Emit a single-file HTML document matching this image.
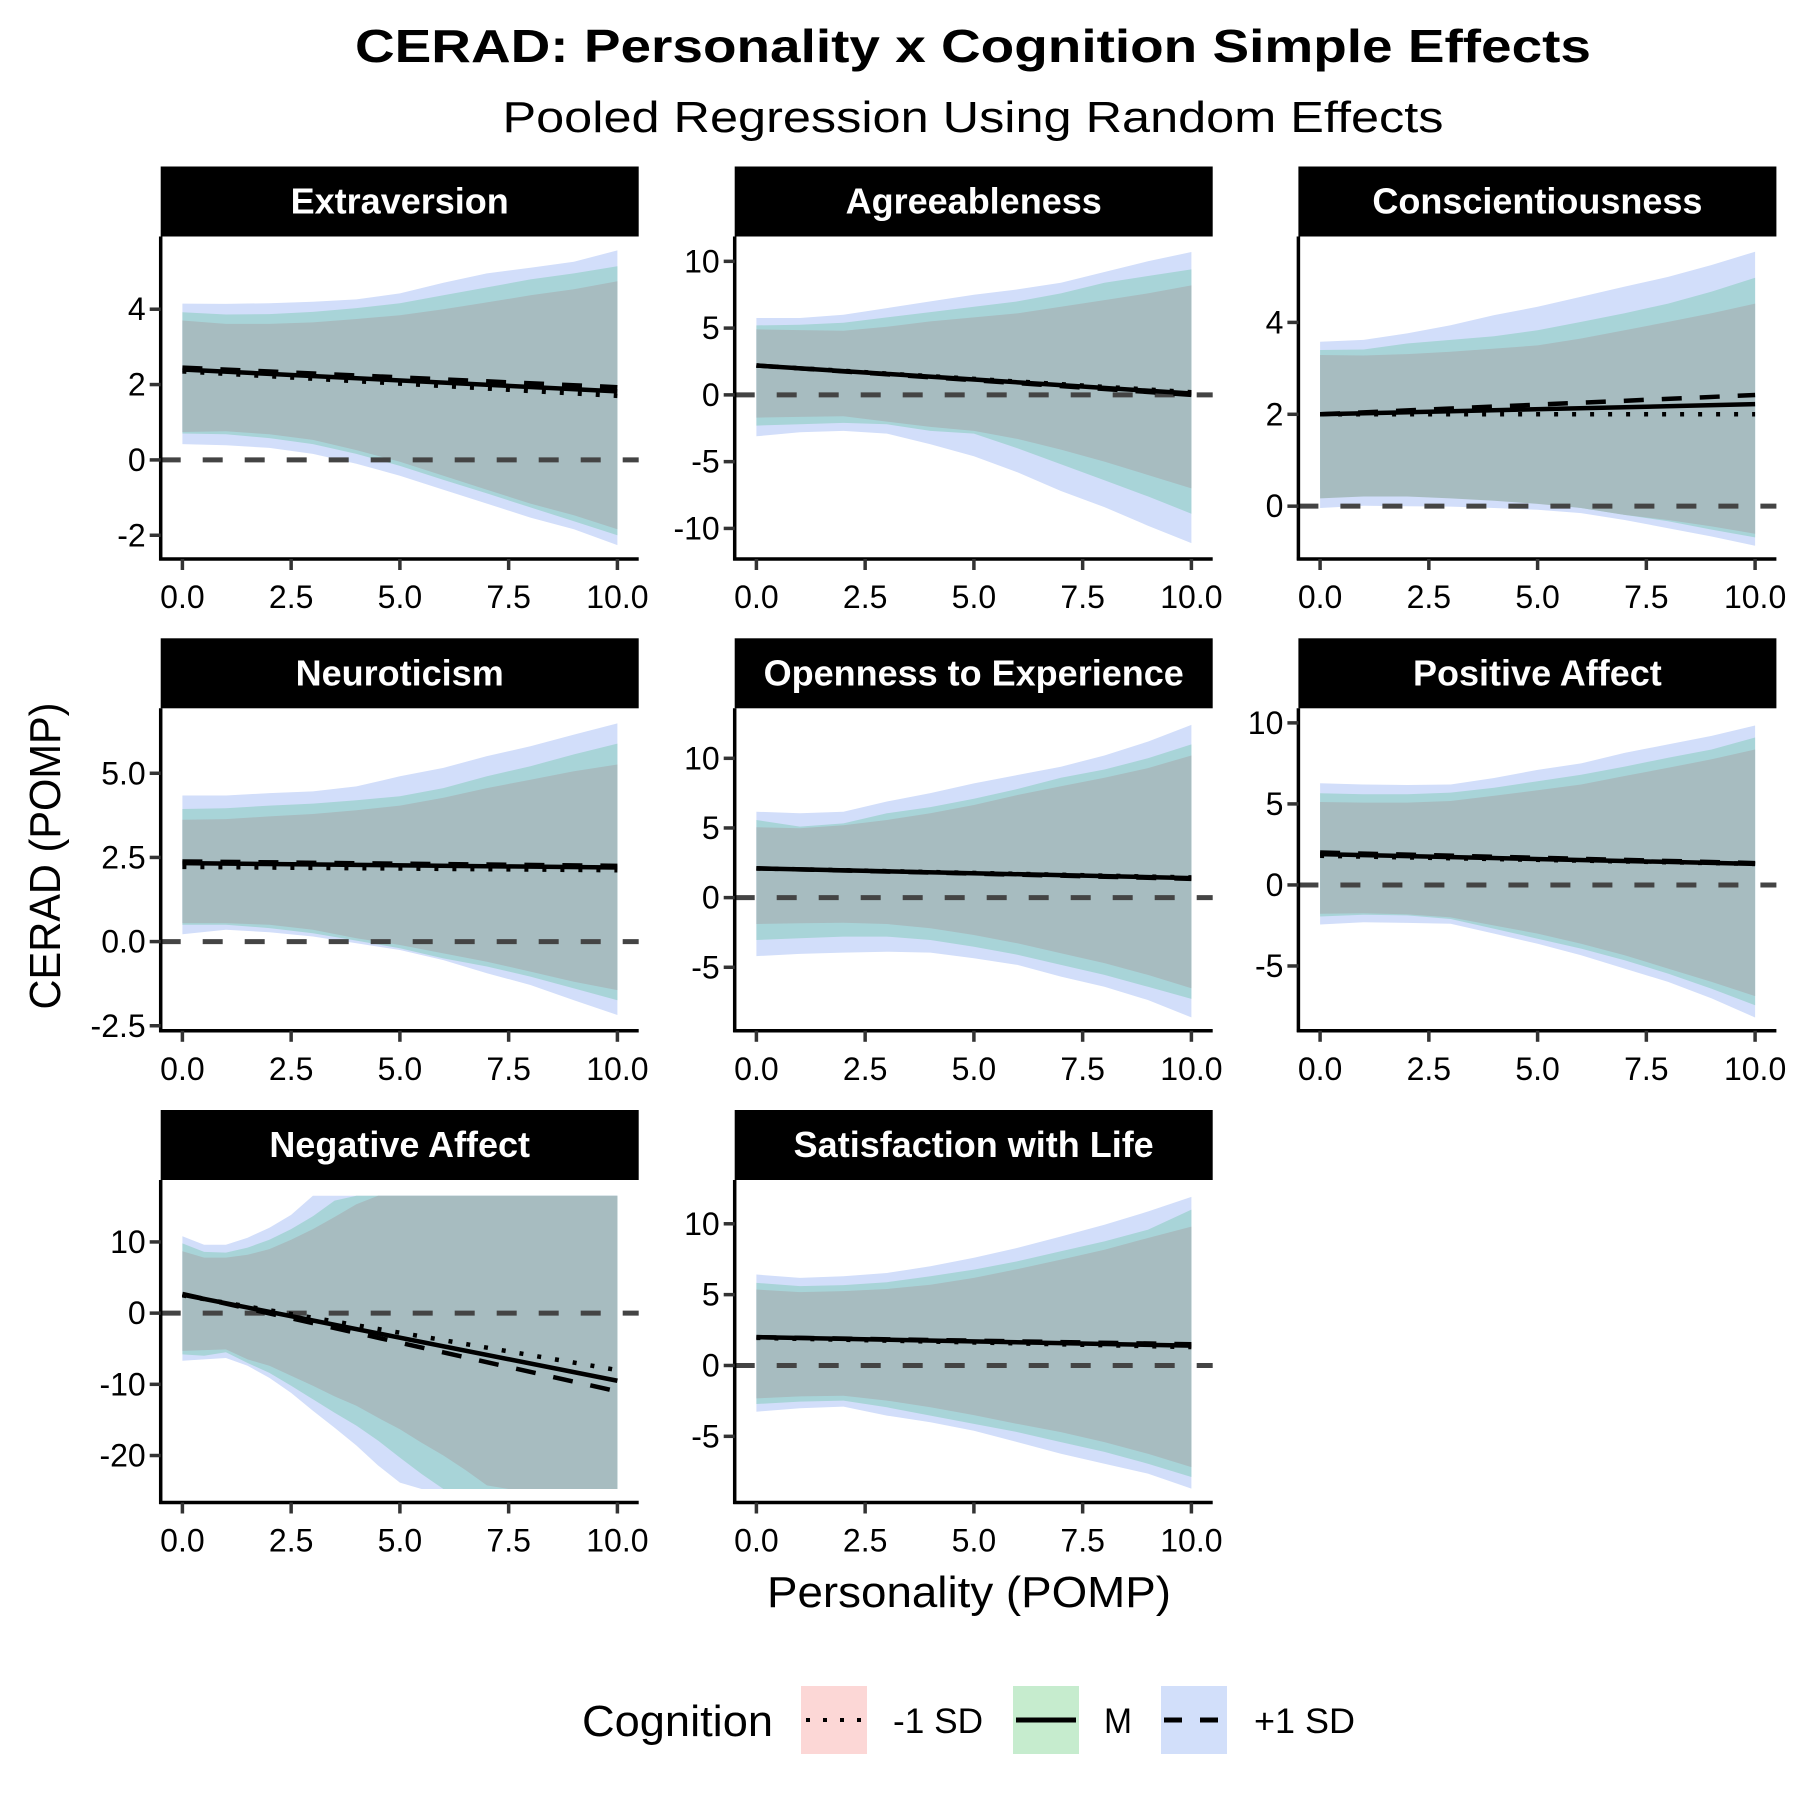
<!DOCTYPE html>
<html><head><meta charset="utf-8"><title>CERAD simple effects</title>
<style>html,body{margin:0;padding:0;background:#fff}svg{display:block}text{font-family:"Liberation Sans",Arial,sans-serif}</style>
</head><body>
<svg id="chart" xmlns="http://www.w3.org/2000/svg" width="1800" height="1800" viewBox="0 0 1800 1800">
<rect width="1800" height="1800" fill="#fff"/>
<text x="973" y="62" text-anchor="middle" font-size="46" font-weight="bold" textLength="1236" lengthAdjust="spacingAndGlyphs">CERAD: Personality x Cognition Simple Effects</text>
<text x="973" y="132" text-anchor="middle" font-size="44" textLength="941" lengthAdjust="spacingAndGlyphs">Pooled Regression Using Random Effects</text>
<text x="969" y="1607" text-anchor="middle" font-size="44" textLength="404" lengthAdjust="spacingAndGlyphs">Personality (POMP)</text>
<text x="60" y="856" text-anchor="middle" font-size="44" transform="rotate(-90 60 856)" textLength="307" lengthAdjust="spacingAndGlyphs">CERAD (POMP)</text>
<g id="panels"></g>
<g id="legend">
<text x="582" y="1736" font-size="44" textLength="191" lengthAdjust="spacingAndGlyphs">Cognition</text>
<g>
<rect x="801" y="1686" width="66" height="68" fill="#fcd7d6"/>
<line x1="806" y1="1720" x2="862" y2="1720" stroke="#000" stroke-width="4" stroke-dasharray="4 13"/>
<text x="893" y="1733" font-size="35" textLength="90" lengthAdjust="spacingAndGlyphs">-1 SD</text>
</g>
<g>
<rect x="1013" y="1686" width="66" height="68" fill="#c6ecce"/>
<line x1="1016" y1="1720" x2="1076" y2="1720" stroke="#000" stroke-width="5"/>
<text x="1104" y="1733" font-size="35" textLength="28" lengthAdjust="spacingAndGlyphs">M</text>
</g>
<g>
<rect x="1161" y="1686" width="66" height="68" fill="#d2dffa"/>
<line x1="1164" y1="1720" x2="1224" y2="1720" stroke="#000" stroke-width="5" stroke-dasharray="18 18"/>
<text x="1254" y="1733" font-size="35" textLength="101" lengthAdjust="spacingAndGlyphs">+1 SD</text>
</g>
</g>
</svg>
<script>
// ---------- data ----------
const xTicks = [0, 2.5, 5, 7.5, 10];
const xTickLabels = ["0.0", "2.5", "5.0", "7.5", "10.0"];
const xsStd = [0,1,2,3,4,5,6,7,8,9,10];
const xsNA = [0,0.5,1,1.5,2,2.5,3,3.5,4,4.5,5,5.5,6,6.5,7,7.5,8,8.5,9,9.5,10];

// Extraversion
const extHiP = [3.7,3.61,3.61,3.65,3.74,3.84,4.0,4.18,4.37,4.53,4.74];
const extLoP = [0.74,0.76,0.68,0.53,0.26,-0.05,-0.42,-0.79,-1.16,-1.47,-1.84];
const extHiG = [3.92,3.86,3.87,3.93,4.03,4.16,4.37,4.58,4.79,4.95,5.14];
const extLoG = [0.7,0.68,0.58,0.42,0.16,-0.16,-0.53,-0.89,-1.26,-1.63,-2.0];
const extHiB = [4.15,4.14,4.16,4.2,4.26,4.42,4.7,4.95,5.1,5.26,5.56];
const extLoB = [0.42,0.39,0.32,0.16,-0.1,-0.42,-0.79,-1.16,-1.53,-1.84,-2.26];
const extLow = [2.35,1.7], extMid = [2.4,1.82], extHigh = [2.45,1.93];
const extTicks = [-2,0,2,4], extTickLabels = ["-2","0","2","4"], extDomain = [-2.63,5.93];

// Agreeableness
const agrHiP = [4.9,4.85,4.8,5.1,5.5,5.8,6.1,6.6,7.1,7.6,8.2];
const agrLoP = [-1.7,-1.65,-1.6,-2.0,-2.4,-2.7,-3.3,-4.1,-5.0,-6.0,-7.0];
const agrHiG = [5.2,5.25,5.4,5.8,6.2,6.6,7.0,7.6,8.4,8.9,9.4];
const agrLoG = [-2.3,-2.2,-2.1,-2.2,-2.7,-2.9,-4.0,-5.2,-6.4,-7.6,-8.9];
const agrHiB = [5.76,5.76,6.0,6.5,7.0,7.5,7.9,8.4,9.2,10.0,10.7];
const agrLoB = [-3.1,-2.8,-2.7,-2.9,-3.7,-4.6,-5.8,-7.2,-8.4,-9.8,-11.1];
const agrLow = [2.2,0.2], agrMid = [2.2,0.1], agrHigh = [2.2,0.0];
const agrTicks = [-10,-5,0,5,10], agrTickLabels = ["-10","-5","0","5","10"], agrDomain = [-12.29,11.86];

// Conscientiousness
const conHiP = [3.29,3.28,3.31,3.36,3.43,3.5,3.65,3.83,4.01,4.2,4.41];
const conLoP = [0.17,0.21,0.21,0.17,0.12,0.05,-0.04,-0.19,-0.3,-0.44,-0.6];
const conHiG = [3.4,3.41,3.54,3.62,3.7,3.83,4.01,4.2,4.41,4.67,4.97];
const conLoG = [0.36,0.37,0.34,0.3,0.21,0.1,-0.04,-0.19,-0.33,-0.51,-0.68];
const conHiB = [3.58,3.62,3.76,3.94,4.16,4.34,4.56,4.78,4.99,5.25,5.54];
const conLoB = [-0.04,0.01,0.0,-0.01,-0.04,-0.08,-0.15,-0.3,-0.48,-0.66,-0.86];
const conLow = [2.0,2.0], conMid = [2.0,2.22], conHigh = [2.0,2.42];
const conTicks = [0,2,4], conTickLabels = ["0","2","4"], conDomain = [-1.15,5.87];

// Neuroticism
const neuHiP = [3.62,3.64,3.72,3.79,3.9,4.04,4.27,4.56,4.81,5.06,5.26];
const neuLoP = [0.55,0.55,0.5,0.35,0.1,-0.1,-0.35,-0.6,-0.89,-1.19,-1.44];
const neuHiG = [3.94,3.96,4.04,4.1,4.2,4.32,4.56,4.91,5.21,5.56,5.88];
const neuLoG = [0.5,0.5,0.4,0.25,0.03,-0.2,-0.5,-0.74,-1.04,-1.39,-1.74];
const neuHiB = [4.34,4.34,4.41,4.46,4.61,4.91,5.16,5.51,5.8,6.15,6.48];
const neuLoB = [0.22,0.35,0.28,0.15,-0.05,-0.25,-0.55,-0.94,-1.29,-1.74,-2.18];
const neuLow = [2.22,2.12], neuMid = [2.33,2.2], neuHigh = [2.38,2.25];
const neuTicks = [-2.5,0,2.5,5], neuTickLabels = ["-2.5","0.0","2.5","5.0"], neuDomain = [-2.65,6.93];

// Openness to Experience
const opeHiP = [5.05,4.98,5.2,5.57,6.05,6.65,7.37,8.0,8.6,9.3,10.2];
const opeLoP = [-1.89,-1.84,-1.8,-1.89,-2.2,-2.68,-3.28,-4.0,-4.7,-5.55,-6.5];
const opeHiG = [5.57,5.1,5.33,6.05,6.5,7.1,7.8,8.6,9.2,10.0,11.0];
const opeLoG = [-3.04,-2.92,-2.8,-2.8,-3.04,-3.52,-4.1,-4.83,-5.55,-6.4,-7.27];
const opeHiB = [6.17,6.05,6.17,6.9,7.5,8.2,8.8,9.4,10.2,11.2,12.4];
const opeLoB = [-4.2,-4.04,-3.95,-3.88,-3.95,-4.35,-4.83,-5.67,-6.4,-7.35,-8.6];
const opeLow = [2.1,1.45], opeMid = [2.1,1.4], opeHigh = [2.1,1.35];
const opeTicks = [-5,0,5,10], opeTickLabels = ["-5","0","5","10"], opeDomain = [-9.56,13.59];

// Positive Affect
const posHiP = [5.12,5.08,5.08,5.18,5.5,5.84,6.2,6.72,7.23,7.75,8.36];
const posLoP = [-1.78,-1.75,-1.82,-2.0,-2.5,-3.0,-3.63,-4.34,-5.16,-5.98,-6.86];
const posHiG = [5.66,5.6,5.6,5.7,6.0,6.4,6.8,7.3,7.85,8.36,9.1];
const posLoG = [-1.95,-1.84,-1.88,-2.1,-2.7,-3.32,-3.93,-4.65,-5.47,-6.4,-7.42];
const posHiB = [6.27,6.2,6.17,6.2,6.6,7.1,7.5,8.15,8.67,9.2,9.84];
const posLoB = [-2.44,-2.3,-2.34,-2.4,-3.0,-3.63,-4.34,-5.16,-5.98,-7.0,-8.18];
const posLow = [1.8,1.3], posMid = [1.9,1.3], posHigh = [2.0,1.35];
const posTicks = [-5,0,5,10], posTickLabels = ["-5","0","5","10"], posDomain = [-9.0,10.9];

// Negative Affect (x step 0.5)
const negHiP = [8.7,7.8,7.8,8.2,9.0,10.3,11.8,13.5,15.3,17.0,18.6,20.2,21.8,23.4,25,26.6,28.2,29.8,31.4,33,34.6];
const negLoP = [-5.3,-5.2,-5.1,-6.5,-7.4,-8.8,-10.2,-11.7,-13.0,-14.7,-16.3,-18.2,-20.0,-22.0,-24.2,-26,-28,-30,-32,-34,-36];
const negHiG = [9.8,8.6,8.5,9.2,10.3,11.8,13.6,15.8,17.5,19.2,20.9,22.6,24.3,26,27.7,29.4,31.1,32.8,34.5,36.2,37.9];
const negLoG = [-5.8,-6.0,-5.5,-7.0,-8.4,-10.2,-12.1,-14.0,-15.8,-17.9,-20.3,-22.6,-25.0,-27,-29,-31,-33,-35,-37,-39,-41];
const negHiB = [10.8,9.6,9.6,10.6,12.0,13.8,16.5,18.2,19.9,21.6,23.3,25,26.7,28.4,30.1,31.8,33.5,35.2,36.9,38.6,40.3];
const negLoB = [-6.7,-6.5,-6.3,-7.4,-9.1,-11.2,-13.7,-16.1,-18.6,-21.4,-23.8,-26,-28,-30,-32,-34,-36,-38,-40,-42,-44];
const negLow = [2.5,-8.0], negMid = [2.6,-9.5], negHigh = [2.7,-11.0];
const negTicks = [-20,-10,0,10], negTickLabels = ["-20","-10","0","10"], negDomain = [-26.6,18.7];
const negClamp = [-24.7,16.5];

// Satisfaction with Life
const satHiP = [5.36,5.18,5.25,5.4,5.7,6.18,6.8,7.47,8.17,9.0,9.8];
const satLoP = [-2.32,-2.18,-2.13,-2.48,-2.95,-3.5,-4.12,-4.7,-5.41,-6.23,-7.17];
const satHiG = [5.83,5.6,5.67,5.88,6.3,6.77,7.35,8.06,8.76,9.58,11.0];
const satLoG = [-2.72,-2.55,-2.48,-2.95,-3.54,-4.12,-4.7,-5.41,-6.1,-6.93,-7.87];
const satHiB = [6.42,6.18,6.3,6.53,7.0,7.6,8.3,9.1,9.93,10.87,11.9];
const satLoB = [-3.26,-3.02,-2.9,-3.54,-4.0,-4.6,-5.41,-6.23,-6.93,-7.63,-8.69];
const satLow = [1.95,1.3], satMid = [2.0,1.4], satHigh = [2.0,1.5];
const satTicks = [-5,0,5,10], satTickLabels = ["-5","0","5","10"], satDomain = [-9.67,13.09];

// ---------- layout ----------
const NS = "http://www.w3.org/2000/svg";
const colLeft = [160.7, 734.7, 1298.4];
const rowTop = [236.5, 708.3, 1180];
const PW = 478, PH = 322.5, STRIP = 70;

const panels = [
 {title:"Extraversion", slug:"extraversion", c:0, r:0, xs:xsStd, bands:[[extLoB,extHiB],[extLoG,extHiG],[extLoP,extHiP]], lines:[extLow,extMid,extHigh], ticks:extTicks, labels:extTickLabels, dom:extDomain, clamp:null},
 {title:"Agreeableness", slug:"agreeableness", c:1, r:0, xs:xsStd, bands:[[agrLoB,agrHiB],[agrLoG,agrHiG],[agrLoP,agrHiP]], lines:[agrLow,agrMid,agrHigh], ticks:agrTicks, labels:agrTickLabels, dom:agrDomain, clamp:null},
 {title:"Conscientiousness", slug:"conscientiousness", c:2, r:0, xs:xsStd, bands:[[conLoB,conHiB],[conLoG,conHiG],[conLoP,conHiP]], lines:[conLow,conMid,conHigh], ticks:conTicks, labels:conTickLabels, dom:conDomain, clamp:null},
 {title:"Neuroticism", slug:"neuroticism", c:0, r:1, xs:xsStd, bands:[[neuLoB,neuHiB],[neuLoG,neuHiG],[neuLoP,neuHiP]], lines:[neuLow,neuMid,neuHigh], ticks:neuTicks, labels:neuTickLabels, dom:neuDomain, clamp:null},
 {title:"Openness to Experience", slug:"openness", c:1, r:1, xs:xsStd, bands:[[opeLoB,opeHiB],[opeLoG,opeHiG],[opeLoP,opeHiP]], lines:[opeLow,opeMid,opeHigh], ticks:opeTicks, labels:opeTickLabels, dom:opeDomain, clamp:null},
 {title:"Positive Affect", slug:"positive-affect", c:2, r:1, xs:xsStd, bands:[[posLoB,posHiB],[posLoG,posHiG],[posLoP,posHiP]], lines:[posLow,posMid,posHigh], ticks:posTicks, labels:posTickLabels, dom:posDomain, clamp:null},
 {title:"Negative Affect", slug:"negative-affect", c:0, r:2, xs:xsNA, bands:[[negLoB,negHiB],[negLoG,negHiG],[negLoP,negHiP]], lines:[negLow,negMid,negHigh], ticks:negTicks, labels:negTickLabels, dom:negDomain, clamp:negClamp},
 {title:"Satisfaction with Life", slug:"satisfaction-with-life", c:1, r:2, xs:xsStd, bands:[[satLoB,satHiB],[satLoG,satHiG],[satLoP,satHiP]], lines:[satLow,satMid,satHigh], ticks:satTicks, labels:satTickLabels, dom:satDomain, clamp:null}
];
const bandFill = ["#d2defa","#a8d4d8","#a7bcc0"];
const bandNames = ["plus-1sd","mean","minus-1sd"];
const lineDash = ["4 14", "", "20 18"];
const lineNames = ["minus-1sd","mean","plus-1sd"];

function mk(tag, attrs, parent){
  const e = document.createElementNS(NS, tag);
  for (const k in attrs) e.setAttribute(k, attrs[k]);
  parent.appendChild(e);
  return e;
}
const root = document.getElementById("panels");

panels.forEach(p => {
  const L = colLeft[p.c], T = rowTop[p.r], B = T + PH, R = L + PW;
  const xS = v => L + 21.7 + v * 43.5;
  const yS = v => B - (v - p.dom[0]) / (p.dom[1] - p.dom[0]) * PH;
  const cl = v => p.clamp ? Math.max(p.clamp[0], Math.min(p.clamp[1], v)) : v;

  const g = mk("g", {}, root);
  
  

  const strip = mk("rect", {x:L, y:T-STRIP, width:PW, height:STRIP, fill:"#000"}, g);
  
  
  const st = mk("text", {x:L+PW/2, y:T-STRIP/2+12, "text-anchor":"middle", "font-size":36, "font-weight":"bold", fill:"#fff"}, g);
  st.textContent = p.title;
  
  

  p.bands.forEach((bd, i) => {
    const lo = bd[0], hi = bd[1];
    let d = "";
    p.xs.forEach((xv, k) => { d += (k ? "L" : "M") + xS(xv).toFixed(1) + "," + yS(cl(hi[k])).toFixed(1); });
    for (let k = p.xs.length - 1; k >= 0; k--) d += "L" + xS(p.xs[k]).toFixed(1) + "," + yS(cl(lo[k])).toFixed(1);
    const path = mk("path", {d: d + "Z", fill: bandFill[i]}, g);
    
    
  });

  const zl = mk("line", {x1:L, y1:yS(0), x2:R, y2:yS(0), stroke:"#444", "stroke-width":5, "stroke-dasharray":"20 22"}, g);
  
  

  p.lines.forEach((ln, i) => {
    const a = {x1:xS(0), y1:yS(ln[0]), x2:xS(10), y2:yS(ln[1]), stroke:"#000", "stroke-width":4.5};
    if (lineDash[i]) a["stroke-dasharray"] = lineDash[i];
    const el = mk("line", a, g);
    
    
  });

  const ya = mk("line", {x1:L, y1:T, x2:L, y2:B+1.5, stroke:"#000", "stroke-width":3.5}, g);
  
  
  const xa = mk("line", {x1:L-1.5, y1:B, x2:R, y2:B, stroke:"#000", "stroke-width":3.5}, g);
  
  

  p.ticks.forEach((t, i) => {
    const y = yS(t);
    const tk = mk("line", {x1:L-11, y1:y, x2:L, y2:y, stroke:"#333", "stroke-width":3.5}, g);
    
    
    const tl = mk("text", {x:L-15, y:y+11, "text-anchor":"end", "font-size":32, fill:"#000"}, g);
    tl.textContent = p.labels[i];
    
    
  });
  xTicks.forEach((t, i) => {
    const x = xS(t);
    const tk = mk("line", {x1:x, y1:B, x2:x, y2:B+11, stroke:"#333", "stroke-width":3.5}, g);
    
    
    const tl = mk("text", {x:x, y:B+49, "text-anchor":"middle", "font-size":32, fill:"#000"}, g);
    tl.textContent = xTickLabels[i];
    
    
  });
});
</script>
</body></html>
